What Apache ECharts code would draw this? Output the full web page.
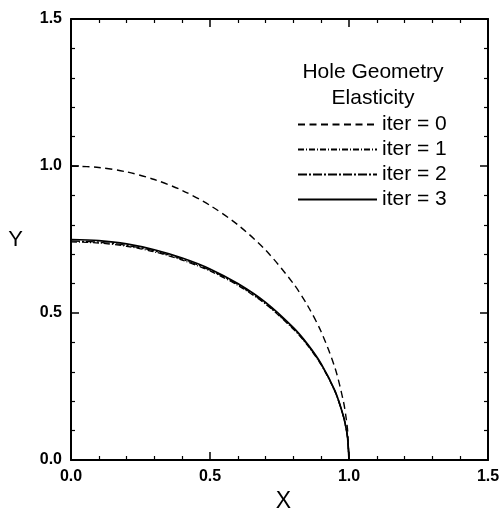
<!DOCTYPE html>
<html>
<head>
<meta charset="utf-8">
<script src="https://cdn.jsdelivr.net/npm/echarts@6/dist/echarts.min.js"></script>
<style>
  html, body { margin: 0; padding: 0; background: #fff; }
  #chart { width: 504px; height: 510px; }
</style>
</head>
<body>
<div id="chart"></div>
<script>
// Hole boundary profiles (X, Y) for successive elasticity iterations
const xPts = [0, 0.1, 0.2, 0.3, 0.4, 0.5, 0.6, 0.7, 0.8, 0.85, 0.9, 0.95, 0.98, 0.99, 0.995, 1.0];
const iter0 = [1.0, 0.995, 0.98, 0.954, 0.917, 0.866, 0.8, 0.714, 0.6, 0.527, 0.436, 0.312, 0.199, 0.141, 0.1, 0.0];
const iter1 = [0.742, 0.738, 0.727, 0.708, 0.68, 0.643, 0.594, 0.53, 0.445, 0.391, 0.323, 0.232, 0.148, 0.105, 0.074, 0.0];
const iter2 = [0.745, 0.741, 0.73, 0.711, 0.683, 0.646, 0.597, 0.532, 0.447, 0.393, 0.325, 0.233, 0.148, 0.105, 0.075, 0.0];
const iter3 = [0.75, 0.746, 0.735, 0.715, 0.687, 0.65, 0.6, 0.536, 0.45, 0.395, 0.327, 0.234, 0.149, 0.106, 0.075, 0.0];
const seriesNames = ['iter = 0', 'iter = 1', 'iter = 2', 'iter = 3'];
const xTicks = ['0.0', '0.5', '1.0', '1.5'];
const yTicks = ['0.0', '0.5', '1.0', '1.5'];

const FONT = 'Liberation Sans, Arial, Helvetica, sans-serif';
const pair = ys => xPts.map((x, i) => [x, ys[i]]);

const baseAxis = (ticks, showLabel) => ({
  type: 'value', min: 0, max: 1.5, interval: 0.5,
  axisLine: { show: true, onZero: false, lineStyle: { color: '#000', width: 2 } },
  axisTick: { show: true, inside: true, length: 8, lineStyle: { color: '#000', width: 1.5 } },
  minorTick: { show: true, splitNumber: 5, length: 4, lineStyle: { color: '#000', width: 1.2 } },
  splitLine: { show: false },
  axisLabel: {
    show: showLabel, color: '#000', fontFamily: FONT, fontSize: 16, fontWeight: 'bold', margin: 9,
    formatter: v => ticks[Math.round(v / 0.5)]
  }
});

const styles = [
  { type: [7, 4.5], width: 1.4 },
  { type: [6, 2, 1, 2], width: 1.3 },
  { type: [9, 2, 2, 2], width: 1.3 },
  { type: 'solid', width: 1.7 }
];
const dataSets = [iter0, iter1, iter2, iter3];

const chart = echarts.init(document.getElementById('chart'), null, { renderer: 'canvas' });
chart.setOption({
  animation: false,
  backgroundColor: '#fff',
  grid: { left: 71, right: 16, top: 19, bottom: 50, containLabel: false, outerBoundsMode: 'none' },
  title: {
    text: 'Hole Geometry\nElasticity',
    left: 368, top: 54, textAlign: 'center',
    textStyle: { fontFamily: FONT, fontSize: 21, fontWeight: 'normal', color: '#000', lineHeight: 26 }
  },
  legend: {
    orient: 'vertical', left: 292, top: 109,
    itemWidth: 79, itemHeight: 14, itemGap: 4,
    itemStyle: { opacity: 0 },
    textStyle: { fontFamily: FONT, fontSize: 21, color: '#000' },
    data: seriesNames
  },
  xAxis: [
    Object.assign(baseAxis(xTicks, true), {
      position: 'bottom',
      name: 'X', nameLocation: 'middle', nameGap: 29,
      nameTextStyle: { fontFamily: FONT, fontSize: 23, color: '#000', padding: [0, 0, 0, 8] }
    }),
    Object.assign(baseAxis(xTicks, false), { position: 'top' })
  ],
  yAxis: [
    Object.assign(baseAxis(yTicks, true), {
      position: 'left',
      name: 'Y', nameLocation: 'middle', nameGap: 48, nameRotate: 0,
      nameTextStyle: { fontFamily: FONT, fontSize: 22, color: '#000' }
    }),
    Object.assign(baseAxis(yTicks, false), { position: 'right' })
  ],
  series: dataSets.map((d, i) => ({
    name: seriesNames[i],
    type: 'line',
    data: pair(d),
    smooth: 0.3,
    showSymbol: false,
    symbol: 'none',
    color: '#000',
    lineStyle: Object.assign({ color: '#000' }, styles[i]),
    z: 10 - i
  }))
});
</script>
</body>
</html>
